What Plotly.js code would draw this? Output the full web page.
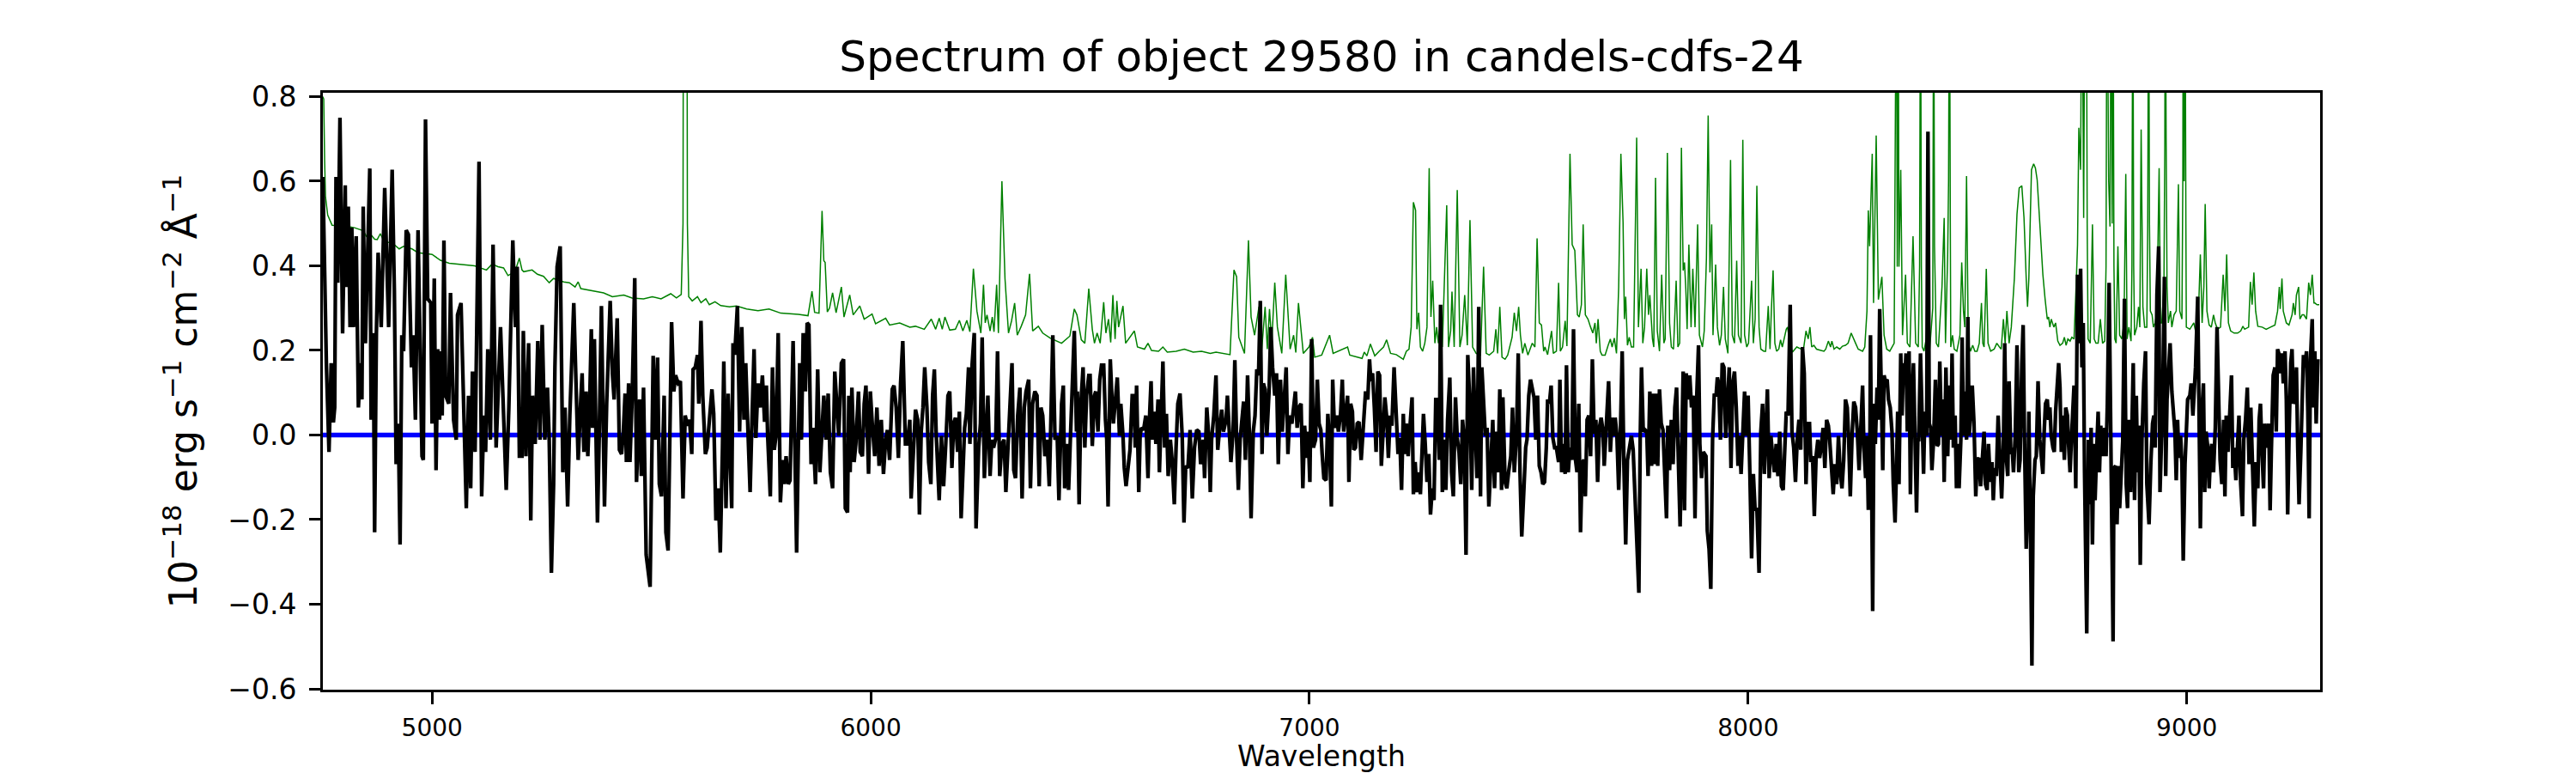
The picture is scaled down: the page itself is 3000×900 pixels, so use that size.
<!DOCTYPE html>
<html>
<head>
<meta charset="utf-8">
<script src="https://cdn.plot.ly/plotly-3.0.1.min.js"></script>
<style>
html,body{margin:0;padding:0;background:#ffffff;}
#chart{width:3000px;height:900px;}
</style>
</head>
<body>
<div id="chart"></div>
<script>
// ---------------- data (wavelength in Angstrom, flux in 1e-18 erg/s/cm2/A) ----------------
const xTickValues = [5000, 6000, 7000, 8000, 9000];
const yTickValues = [-0.6, -0.4, -0.2, 0.0, 0.2, 0.4, 0.6, 0.8];
const waveLimits = [4751, 9304];
const zeroLevel = [0, 0];

// observed flux, [wavelength, flux] pairs
const flux_4750_5325 = [[4751,0.61],[4759,0.17],[4765,-0.04],[4770,0.17],[4775,0.03],[4778,0.065],[4781,0.61],[4785,0.36],[4790,0.75],[4796,0.24],[4802,0.59],[4804,0.35],[4809,0.54],[4813,0.255],[4817,0.49],[4821,0.255],[4827,0.47],[4832,0.065],[4837,0.17],[4840,0.084],[4843,0.54],[4848,0.217],[4858,0.63],[4861,0.036],[4866,0.241],[4869,-0.23],[4873,0.241],[4877,0.431],[4884,0.255],[4892,0.584],[4901,0.255],[4909,0.627],[4914,0.341],[4918,-0.069],[4923,0.027],[4927,-0.259],[4931,0.236],[4935,0.198],[4941,0.484],[4946,0.474],[4953,0.16],[4957,0.236],[4962,0.036],[4968,0.484],[4977,-0.05],[4980,-0.059],[4985,0.746],[4990,0.322],[4997,0.312],[5000,0.027],[5005,0.37],[5009,-0.083],[5013,0.203],[5017,0.036],[5021,0.198],[5023,0.046],[5027,0.46],[5031,0.093],[5038,0.074],[5042,0.336],[5049,0.036],[5055,-0.011],[5058,0.284],[5066,0.312],[5078,-0.173],[5083,0.093],[5088,-0.126],[5092,0.15],[5098,-0.04],[5107,0.646],[5113,-0.145],[5118,0.046],[5122,-0.04],[5127,0.203],[5133,-0.011],[5139,0.45],[5146,-0.03],[5156,0.255],[5169,-0.13],[5175,0.065],[5184,0.46],[5190,0.255],[5194,0.398],[5199,-0.05],[5205,-0.05],[5208,0.246],[5214,-0.05],[5220,0.217],[5225,-0.202],[5229,0.093],[5235,-0.021],[5241,0.222],[5246,-0.011],[5251,0.26],[5257,-0.011],[5263,0.112],[5267,-0.011],[5272,-0.326],[5277,-0.116],[5280,0.16],[5285,0.398],[5292,0.446],[5298,-0.088],[5303,0.065],[5309,-0.169],[5314,0.046],[5323,0.312]];
const flux_5325_5910 = [[5333,-0.059],[5339,0.084],[5342,0.146],[5346,-0.04],[5351,0.103],[5355,-0.05],[5359,0.065],[5363,0.25],[5366,0.017],[5370,0.227],[5377,-0.207],[5381,-0.002],[5386,0.305],[5393,-0.169],[5398,0.074],[5406,0.317],[5411,0.146],[5415,0.084],[5422,0.276],[5427,-0.035],[5432,-0.045],[5436,0.008],[5440,0.098],[5443,-0.064],[5448,0.122],[5451,-0.064],[5456,0.084],[5462,0.371],[5466,-0.111],[5473,0.084],[5477,-0.097],[5482,0.112],[5488,-0.283],[5497,-0.359],[5501,0.065],[5504,0.187],[5509,-0.011],[5514,0.183],[5518,-0.116],[5523,-0.145],[5529,0.093],[5533,-0.23],[5538,-0.273],[5546,0.267],[5551,0.103],[5555,0.141],[5561,0.122],[5566,0.127],[5572,-0.15],[5577,0.046],[5582,0.022],[5587,0.036],[5592,-0.045],[5595,0.155],[5600,0.16],[5605,0.189],[5608,0.074],[5613,0.27],[5617,0.093],[5623,-0.045],[5627,-0.03],[5631,0.027],[5638,0.108],[5642,0.05],[5647,-0.202],[5652,-0.126],[5657,-0.278],[5662,-0.03],[5665,0.174],[5670,-0.173],[5675,0.098],[5683,-0.173],[5686,0.217],[5690,0.19],[5696,0.305],[5701,0.008],[5706,0.255],[5711,0.036],[5715,0.17],[5720,0.012],[5725,-0.135],[5729,0.027],[5734,0.203],[5738,-0.007],[5743,0.122],[5748,0.065],[5753,0.141],[5758,0.031],[5762,0.117],[5765,-0.002],[5771,-0.145],[5776,0.16],[5780,-0.035],[5784,-0.002],[5789,0.241],[5794,-0.159],[5799,-0.059],[5803,-0.116],[5807,-0.05],[5812,-0.116],[5816,-0.107],[5823,0.222],[5827,-0.011],[5831,-0.278],[5838,0.17],[5842,-0.011],[5846,0.241],[5851,0.103],[5855,0.265],[5859,0.26],[5864,-0.069],[5868,0.017],[5874,-0.116],[5879,0.155],[5884,-0.088],[5888,-0.011],[5893,0.093],[5898,-0.011],[5903,0.098],[5908,-0.088]];
const flux_5910_6500 = [[5913,-0.126],[5918,0.15],[5923,0.074],[5927,-0.002],[5933,0.17],[5938,0.179],[5942,-0.173],[5947,-0.183],[5950,0.093],[5953,-0.088],[5957,0.112],[5962,-0.064],[5966,-0.021],[5972,0.103],[5976,-0.04],[5981,-0.05],[5985,0.074],[5989,0.117],[5995,-0.092],[5999,0.103],[6004,0.017],[6009,-0.05],[6014,0.065],[6019,-0.073],[6024,0.036],[6029,-0.092],[6034,-0.011],[6038,0.012],[6043,-0.059],[6049,0.108],[6053,0.117],[6058,0.065],[6063,-0.054],[6068,0.122],[6073,0.222],[6079,-0.021],[6084,-0.021],[6089,0.036],[6092,-0.15],[6098,-0.002],[6102,0.06],[6107,0.036],[6111,-0.188],[6115,0.008],[6119,0.065],[6123,0.16],[6128,0.065],[6132,-0.064],[6137,-0.116],[6141,0.093],[6145,0.155],[6149,0.008],[6156,-0.154],[6161,-0.002],[6166,-0.121],[6171,-0.021],[6176,0.093],[6180,0.103],[6185,-0.078],[6189,0.027],[6193,0.041],[6198,-0.04],[6202,0.055],[6206,-0.197],[6210,-0.064],[6214,0.017],[6218,0.05],[6223,0.16],[6226,-0.021],[6231,0.165],[6236,0.241],[6240,-0.221],[6246,-0.03],[6250,0.027],[6254,0.231],[6259,-0.102],[6263,-0.002],[6267,0.093],[6272,-0.097],[6276,-0.011],[6280,-0.03],[6285,-0.007],[6289,0.198],[6294,-0.097],[6299,-0.021],[6304,-0.011],[6308,-0.135],[6312,-0.059],[6317,0.065],[6322,0.17],[6326,-0.083],[6330,-0.102],[6335,0.046],[6340,0.112],[6345,-0.15],[6350,0.065],[6354,0.103],[6360,0.131],[6364,-0.126],[6369,0.074],[6374,0.103],[6379,0.093],[6384,-0.121],[6388,0.065],[6392,0.046],[6397,-0.05],[6402,-0.011],[6407,-0.121],[6410,0.008],[6415,0.236],[6420,-0.011],[6425,-0.002],[6429,-0.154],[6435,0.074],[6439,0.117],[6442,-0.126],[6448,-0.021],[6451,-0.13],[6455,-0.011],[6459,0.103],[6464,0.246],[6469,0.008],[6471,0.103],[6475,-0.164],[6479,0.074],[6484,0.16],[6488,-0.03],[6492,0.093],[6497,0.141]];
const flux_6500_7090 = [[6500,0.141],[6505,-0.026],[6510,0.093],[6513,0.103],[6518,0.008],[6522,0.131],[6526,0.165],[6531,0.165],[6535,0.036],[6538,-0.011],[6541,-0.169],[6546,0.179],[6550,0.084],[6553,0.027],[6557,0.074],[6562,0.136],[6567,-0.002],[6570,0.074],[6575,-0.002],[6578,-0.078],[6582,-0.121],[6587,-0.069],[6591,-0.035],[6596,0.093],[6600,0.093],[6603,-0.03],[6606,0.117],[6611,-0.135],[6614,-0.002],[6617,0.017],[6622,0.012],[6627,0.046],[6632,-0.102],[6636,0.055],[6639,0.127],[6642,-0.011],[6646,0.055],[6650,-0.021],[6655,0.084],[6658,-0.088],[6662,0.046],[6666,0.174],[6670,-0.03],[6674,0.05],[6678,-0.097],[6683,-0.011],[6687,-0.059],[6692,-0.164],[6696,-0.03],[6700,0.074],[6705,0.098],[6710,-0.002],[6714,-0.207],[6718,-0.073],[6723,-0.078],[6728,0.012],[6733,-0.15],[6738,-0.03],[6743,0.012],[6748,0.008],[6752,-0.069],[6758,-0.011],[6761,-0.102],[6766,0.065],[6771,-0.011],[6774,-0.135],[6777,-0.011],[6782,0.046],[6787,0.141],[6791,-0.035],[6795,0.012],[6800,0.06],[6804,0.008],[6810,0.036],[6813,0.093],[6818,-0.016],[6821,-0.064],[6826,0.008],[6830,0.177],[6834,-0.011],[6838,-0.13],[6842,-0.011],[6846,0.036],[6850,0.079],[6854,-0.059],[6859,0.141],[6863,0.008],[6867,-0.197],[6872,0.008],[6876,0.046],[6880,0.155],[6884,0.141],[6888,0.317],[6892,-0.045],[6895,0.122],[6899,0.108],[6903,-0.002],[6908,0.103],[6912,0.255],[6916,0.16],[6921,0.093],[6925,0.146],[6929,-0.069],[6934,0.131],[6938,0.008],[6942,0.074],[6947,0.16],[6951,-0.045],[6955,0.046],[6960,0.027],[6964,0.065],[6968,0.103],[6972,0.017],[6976,0.065],[6981,0.074],[6985,-0.126],[6989,0.022],[6994,-0.054],[6997,0.008],[7001,-0.111],[7005,0.227],[7009,-0.03],[7014,-0.011],[7018,0.131],[7022,0.027],[7026,0.012],[7029,-0.045],[7033,-0.102],[7038,-0.107],[7042,0.05],[7046,-0.021],[7050,-0.169],[7053,0.131],[7057,0.017],[7062,0.046],[7066,0.008],[7071,0.05],[7075,0.131],[7078,0.008],[7082,0.046],[7087,0.093]];
const flux_7090_7675 = [[7090,-0.111],[7094,0.074],[7098,0.055],[7101,-0.035],[7105,-0.03],[7109,0.027],[7113,0.031],[7118,-0.059],[7121,-0.011],[7125,0.074],[7128,0.103],[7133,0.084],[7137,0.179],[7140,0.127],[7144,0.146],[7148,0.065],[7152,-0.04],[7156,0.15],[7160,0.141],[7164,-0.073],[7169,0.017],[7172,0.089],[7176,0.044],[7180,-0.054],[7184,0.046],[7188,0.022],[7193,0.16],[7198,0.017],[7202,-0.045],[7206,-0.007],[7210,-0.13],[7214,0.05],[7217,-0.045],[7221,0.027],[7225,-0.05],[7229,0.017],[7234,0.089],[7237,-0.14],[7241,-0.064],[7245,-0.135],[7249,-0.088],[7253,-0.14],[7257,0.012],[7260,0.05],[7264,-0.021],[7268,-0.111],[7272,-0.045],[7276,-0.188],[7280,-0.126],[7284,-0.154],[7288,0.084],[7292,0.084],[7296,-0.059],[7299,0.308],[7303,-0.135],[7307,-0.011],[7311,-0.13],[7315,0.036],[7320,0.136],[7324,-0.088],[7328,-0.145],[7333,0.089],[7337,-0.007],[7341,-0.04],[7345,-0.116],[7349,0.036],[7353,-0.011],[7357,-0.283],[7361,0.189],[7366,0.065],[7370,-0.13],[7374,0.16],[7378,0.017],[7382,-0.102],[7386,0.303],[7390,-0.145],[7393,0.16],[7397,0.07],[7401,-0.002],[7405,0.017],[7409,-0.169],[7413,-0.078],[7418,0.036],[7422,-0.126],[7426,0.008],[7430,-0.088],[7434,0.108],[7438,-0.13],[7441,0.089],[7446,-0.111],[7450,-0.126],[7454,-0.088],[7459,-0.05],[7463,0.065],[7467,-0.088],[7472,-0.002],[7476,0.193],[7480,-0.088],[7484,-0.24],[7489,-0.126],[7493,-0.03],[7496,-0.011],[7500,0.093],[7504,0.131],[7508,0.103],[7512,0.089],[7516,-0.011],[7520,0.093],[7524,-0.073],[7528,-0.088],[7532,-0.116],[7536,-0.111],[7540,-0.03],[7543,0.084],[7547,0.074],[7551,0.117],[7555,-0.007],[7559,-0.03],[7563,-0.03],[7568,-0.064],[7571,0.131],[7575,-0.088],[7579,-0.021],[7583,-0.092],[7586,0.165],[7590,-0.088],[7594,-0.03],[7598,-0.059],[7602,0.25],[7606,-0.054],[7610,-0.088],[7614,0.074],[7618,-0.23],[7622,-0.064],[7626,-0.059],[7629,-0.145],[7633,0.036],[7637,0.046],[7641,-0.05],[7645,0.179],[7649,0.003],[7653,0.036],[7657,-0.111],[7661,0.017],[7665,0.041],[7669,0.012],[7672,-0.073]];
const flux_7675_8262 = [[7678,0.055],[7682,0.127],[7686,-0.04],[7690,0.041],[7694,-0.002],[7697,0.041],[7701,-0.002],[7705,-0.13],[7709,0.008],[7713,0.198],[7717,-0.078],[7721,-0.259],[7725,-0.059],[7729,-0.026],[7734,-0.002],[7738,-0.035],[7742,-0.126],[7746,-0.24],[7751,-0.373],[7754,-0.011],[7757,0.16],[7761,0.008],[7765,0.012],[7769,0.008],[7772,-0.097],[7776,0.103],[7780,-0.073],[7782,0.098],[7786,-0.069],[7790,0.098],[7794,-0.073],[7798,0.108],[7802,0.027],[7806,0.012],[7810,-0.111],[7814,-0.197],[7817,0.022],[7821,-0.083],[7825,0.036],[7829,-0.069],[7833,0.065],[7837,0.112],[7841,-0.059],[7845,-0.216],[7849,-0.011],[7852,0.15],[7855,-0.178],[7859,0.146],[7863,0.084],[7867,0.141],[7871,0.065],[7875,0.093],[7879,-0.197],[7883,0.093],[7887,0.212],[7890,-0.021],[7894,-0.102],[7898,-0.04],[7904,-0.05],[7907,-0.226],[7911,-0.269],[7915,-0.364],[7919,-0.011],[7923,0.098],[7927,0.093],[7930,0.136],[7933,0.122],[7937,-0.011],[7941,0.17],[7945,0.16],[7949,-0.007],[7953,0.093],[7957,0.16],[7961,-0.078],[7965,0.122],[7969,0.15],[7973,0.065],[7977,-0.073],[7980,-0.002],[7984,-0.092],[7988,-0.011],[7992,0.103],[7996,-0.002],[8000,0.093],[8004,-0.088],[8008,-0.292],[8012,-0.092],[8016,-0.178],[8020,-0.173],[8025,-0.326],[8029,0.008],[8033,0.074],[8037,-0.092],[8040,-0.011],[8044,0.108],[8048,-0.102],[8052,-0.002],[8056,-0.05],[8060,-0.088],[8064,-0.021],[8068,-0.097],[8072,0.008],[8076,-0.121],[8080,-0.13],[8083,-0.05],[8087,0.055],[8091,0.046],[8096,0.308],[8100,0.008],[8104,-0.03],[8108,-0.111],[8112,-0.011],[8116,0.036],[8120,-0.035],[8124,0.208],[8128,0.146],[8132,-0.116],[8136,0.027],[8140,0.027],[8143,-0.064],[8147,-0.05],[8151,-0.192],[8155,-0.05],[8159,-0.011],[8163,-0.054],[8167,-0.026],[8171,0.017],[8175,-0.078],[8179,0.036],[8183,0.022],[8186,-0.011],[8190,-0.088],[8194,-0.14],[8198,-0.069],[8202,-0.116],[8206,-0.002],[8210,-0.088],[8214,-0.126],[8218,-0.059],[8222,0.084],[8226,0.065],[8229,-0.002],[8233,-0.145],[8237,-0.002],[8241,0.079],[8245,0.065],[8249,0.008],[8253,-0.083],[8257,0.017],[8261,0.117]];
const flux_8262_8750 = [[8264,-0.03],[8268,-0.102],[8271,-0.002],[8274,-0.173],[8277,-0.173],[8279,0.236],[8284,-0.416],[8287,0.074],[8290,-0.021],[8294,0.112],[8297,0.036],[8300,0.298],[8303,0.141],[8307,-0.083],[8310,0.141],[8313,0.127],[8317,0.131],[8320,0.084],[8324,0.065],[8328,0.008],[8331,-0.116],[8335,-0.207],[8338,-0.088],[8341,0.055],[8344,-0.116],[8348,0.193],[8351,0.046],[8354,0.17],[8357,0.122],[8360,0.193],[8363,0.008],[8367,0.198],[8370,-0.14],[8373,0.065],[8377,0.17],[8380,-0.021],[8384,-0.183],[8387,-0.011],[8389,-0.011],[8393,0.193],[8397,-0.002],[8400,-0.092],[8403,0.055],[8407,-0.002],[8410,0.717],[8413,0.027],[8416,0.017],[8419,-0.083],[8423,-0.011],[8427,0.131],[8431,-0.026],[8434,-0.021],[8437,0.174],[8441,-0.002],[8444,0.084],[8447,-0.111],[8451,0.16],[8455,-0.05],[8459,0.117],[8462,-0.011],[8465,0.193],[8468,-0.03],[8472,0.046],[8475,-0.126],[8478,-0.021],[8481,-0.126],[8485,-0.011],[8488,0.231],[8491,-0.002],[8494,0.103],[8498,-0.011],[8501,0.279],[8504,-0.002],[8507,0.065],[8511,0.117],[8515,0.027],[8519,-0.145],[8522,-0.059],[8526,-0.054],[8530,-0.121],[8534,-0.059],[8538,0.008],[8541,-0.116],[8545,-0.13],[8548,-0.021],[8552,-0.111],[8556,-0.064],[8559,-0.154],[8562,-0.078],[8566,-0.097],[8570,0.046],[8574,-0.059],[8578,-0.15],[8582,-0.03],[8585,0.217],[8589,-0.059],[8592,-0.097],[8595,0.127],[8599,-0.045],[8602,-0.03],[8605,-0.088],[8609,-0.002],[8613,0.212],[8617,-0.088],[8620,-0.059],[8624,0.17],[8627,0.26],[8630,-0.002],[8634,-0.269],[8638,-0.126],[8640,0.055],[8644,-0.259],[8647,-0.545],[8650,-0.145],[8654,-0.059],[8657,-0.05],[8661,0.127],[8665,-0.011],[8668,-0.05],[8672,-0.092],[8675,0.008],[8678,0.074],[8682,0.084],[8685,0.036],[8688,0.065],[8691,-0.002],[8695,-0.03],[8698,-0.04],[8701,0.055],[8704,0.112],[8708,0.17],[8711,0.112],[8714,-0.04],[8717,0.046],[8721,-0.059],[8724,0.065],[8728,0.046],[8730,-0.011],[8734,-0.088],[8737,-0.011],[8740,0.084],[8743,0.117],[8747,-0.126]];
const flux_8750_9300 = [[8751,0.379],[8754,0.217],[8758,0.393],[8761,0.16],[8764,0.265],[8767,-0.088],[8772,-0.469],[8776,-0.011],[8779,-0.164],[8782,0.017],[8785,-0.259],[8788,-0.021],[8791,-0.154],[8795,-0.026],[8798,0.055],[8801,-0.088],[8804,0.022],[8808,-0.05],[8813,0.017],[8816,-0.05],[8819,0.074],[8823,0.36],[8827,-0.03],[8832,-0.488],[8834,-0.078],[8838,-0.073],[8841,-0.211],[8844,-0.073],[8847,-0.173],[8851,-0.088],[8854,-0.016],[8858,0.322],[8862,-0.116],[8865,-0.173],[8868,0.036],[8872,-0.135],[8875,0.046],[8878,0.17],[8881,-0.154],[8885,0.093],[8888,-0.088],[8891,0.022],[8894,-0.307],[8898,-0.002],[8902,0.122],[8906,0.198],[8909,-0.116],[8914,-0.211],[8918,-0.069],[8922,0.027],[8925,0.046],[8928,-0.03],[8932,0.331],[8936,0.446],[8939,-0.135],[8942,-0.011],[8945,0.084],[8949,0.374],[8952,-0.097],[8955,0.084],[8958,0.141],[8962,0.217],[8966,0.103],[8970,0.027],[8973,0.008],[8976,-0.107],[8979,0.036],[8982,-0.054],[8986,-0.002],[8989,-0.069],[8992,-0.297],[8996,-0.069],[8999,0.003],[9002,0.084],[9007,0.093],[9010,0.122],[9014,0.046],[9017,0.112],[9020,0.16],[9025,0.327],[9028,-0.069],[9031,-0.221],[9035,0.065],[9038,0.122],[9041,-0.135],[9044,0.008],[9048,-0.03],[9051,-0.126],[9054,-0.05],[9057,-0.021],[9061,-0.088],[9065,0.017],[9069,0.255],[9072,0.084],[9076,-0.059],[9080,-0.116],[9084,0.036],[9087,-0.145],[9090,0.046],[9094,-0.04],[9098,0.046],[9102,0.141],[9105,-0.078],[9108,-0.03],[9112,-0.107],[9115,-0.03],[9119,0.046],[9123,-0.116],[9127,-0.192],[9130,-0.011],[9134,0.036],[9138,0.112],[9142,-0.069],[9146,0.065],[9150,-0.088],[9154,-0.216],[9158,-0.064],[9162,-0.126],[9165,0.036],[9168,0.074],[9172,-0.05],[9175,-0.126],[9178,0.027],[9183,-0.03],[9187,0.027],[9190,-0.178],[9193,-0.03],[9197,0.141],[9201,0.16],[9204,0.008],[9207,0.203],[9211,0.189],[9214,0.146],[9217,0.193],[9220,0.122],[9224,0.198],[9227,0.084],[9230,-0.188],[9233,-0.011],[9237,0.17],[9240,0.203],[9243,0.074],[9247,0.084],[9250,0.16],[9253,-0.03],[9256,-0.164],[9260,-0.04],[9263,0.103],[9266,0.189],[9269,0.16],[9273,0.198],[9276,0.055],[9279,-0.197],[9282,0.179],[9286,0.274],[9289,0.065],[9292,0.198],[9295,0.027],[9299,0.179]];

// noise spectrum, [wavelength, flux] pairs
const noise_4750_5325 = [[4751,0.80],[4753,0.794],[4755,0.65],[4757,0.563],[4762,0.52],[4772,0.496],[4804,0.494],[4823,0.49],[4843,0.483],[4850,0.47],[4855,0.465],[4862,0.472],[4869,0.463],[4875,0.462],[4882,0.476],[4890,0.458],[4902,0.455],[4915,0.449],[4925,0.44],[4935,0.446],[4954,0.44],[4968,0.431],[5000,0.427],[5019,0.413],[5039,0.406],[5065,0.404],[5097,0.4],[5124,0.39],[5137,0.404],[5150,0.398],[5163,0.395],[5173,0.377],[5189,0.386],[5199,0.418],[5205,0.39],[5209,0.386],[5228,0.39],[5240,0.38],[5254,0.375],[5267,0.36],[5277,0.37],[5300,0.362],[5313,0.36]];
const noise_5325_5910 = [[5326,0.35],[5333,0.362],[5339,0.346],[5365,0.341],[5391,0.336],[5411,0.327],[5437,0.331],[5456,0.324],[5482,0.322],[5502,0.327],[5522,0.322],[5544,0.334],[5557,0.324],[5568,0.332],[5572,0.5],[5573,1.2],[5578,1.4],[5581,1.2],[5582,0.5],[5585,0.327],[5593,0.317],[5605,0.327],[5613,0.313],[5624,0.322],[5632,0.308],[5645,0.315],[5658,0.306],[5678,0.303],[5694,0.305],[5717,0.298],[5743,0.294],[5768,0.298],[5795,0.288],[5835,0.285],[5857,0.282],[5866,0.34],[5872,0.29],[5882,0.288],[5889,0.53],[5893,0.412],[5896,0.408],[5901,0.291],[5906,0.3]];
const noise_5910_6500 = [[5913,0.336],[5921,0.289],[5933,0.35],[5939,0.279],[5952,0.331],[5960,0.284],[5975,0.305],[5985,0.274],[6003,0.286],[6011,0.263],[6034,0.276],[6043,0.26],[6066,0.265],[6089,0.255],[6102,0.257],[6122,0.25],[6138,0.274],[6148,0.25],[6156,0.276],[6163,0.25],[6169,0.279],[6180,0.248],[6193,0.25],[6202,0.271],[6210,0.246],[6219,0.271],[6226,0.244],[6234,0.393],[6242,0.293],[6251,0.241],[6257,0.355],[6261,0.265],[6265,0.284],[6272,0.246],[6277,0.279],[6281,0.244],[6287,0.355],[6291,0.241],[6299,0.6],[6306,0.37],[6314,0.241],[6321,0.27],[6328,0.312],[6334,0.236],[6343,0.257],[6353,0.284],[6362,0.381],[6369,0.246],[6382,0.257],[6392,0.241],[6409,0.229],[6435,0.217],[6454,0.234],[6464,0.298],[6470,0.284],[6480,0.225],[6488,0.217],[6497,0.346]];
const noise_6500_7090 = [[6505,0.25],[6510,0.217],[6516,0.241],[6523,0.217],[6531,0.314],[6536,0.241],[6542,0.274],[6547,0.219],[6552,0.331],[6557,0.227],[6561,0.317],[6565,0.255],[6575,0.305],[6581,0.217],[6601,0.246],[6608,0.208],[6624,0.203],[6632,0.217],[6640,0.2],[6656,0.198],[6666,0.208],[6676,0.196],[6696,0.198],[6715,0.203],[6735,0.196],[6754,0.198],[6774,0.193],[6787,0.196],[6819,0.19],[6828,0.39],[6834,0.374],[6839,0.231],[6852,0.193],[6861,0.46],[6867,0.279],[6875,0.236],[6885,0.303],[6891,0.198],[6899,0.303],[6904,0.203],[6909,0.298],[6914,0.217],[6921,0.36],[6927,0.255],[6937,0.193],[6946,0.379],[6956,0.203],[6964,0.236],[6969,0.195],[6975,0.312],[6986,0.193],[6999,0.208],[7007,0.231],[7012,0.184],[7028,0.189],[7046,0.236],[7054,0.193],[7074,0.203],[7087,0.208]];
const noise_7090_7675 = [[7092,0.189],[7107,0.184],[7120,0.181],[7125,0.196],[7131,0.187],[7139,0.215],[7149,0.187],[7159,0.198],[7169,0.208],[7176,0.225],[7185,0.193],[7198,0.19],[7214,0.179],[7221,0.198],[7227,0.203],[7232,0.255],[7237,0.55],[7242,0.531],[7245,0.25],[7249,0.289],[7253,0.208],[7258,0.198],[7263,0.217],[7268,0.255],[7273,0.631],[7277,0.279],[7281,0.365],[7286,0.217],[7290,0.255],[7294,0.217],[7299,0.274],[7303,0.208],[7313,0.543],[7317,0.208],[7322,0.246],[7325,0.339],[7330,0.208],[7337,0.579],[7343,0.208],[7348,0.236],[7354,0.331],[7360,0.212],[7366,0.508],[7372,0.208],[7380,0.193],[7390,0.189],[7397,0.398],[7403,0.193],[7410,0.189],[7420,0.198],[7425,0.25],[7429,0.193],[7434,0.303],[7439,0.184],[7446,0.179],[7452,0.189],[7462,0.231],[7467,0.289],[7472,0.246],[7477,0.303],[7481,0.236],[7486,0.193],[7491,0.217],[7498,0.189],[7508,0.217],[7514,0.208],[7519,0.465],[7524,0.265],[7529,0.26],[7534,0.198],[7537,0.208],[7543,0.19],[7552,0.246],[7556,0.193],[7563,0.198],[7568,0.36],[7572,0.198],[7577,0.208],[7583,0.27],[7587,0.21],[7594,0.665],[7599,0.45],[7605,0.436],[7611,0.284],[7615,0.279],[7620,0.308],[7624,0.498],[7629,0.284],[7635,0.274],[7641,0.255],[7646,0.241],[7651,0.265],[7654,0.217],[7658,0.274],[7663,0.198],[7667,0.189],[7674,0.189]];
const noise_7675_8262 = [[7681,0.212],[7686,0.227],[7690,0.208],[7695,0.229],[7700,0.193],[7705,0.35],[7710,0.665],[7715,0.503],[7718,0.274],[7721,0.327],[7725,0.212],[7729,0.231],[7734,0.208],[7739,0.208],[7746,0.703],[7750,0.255],[7756,0.393],[7760,0.217],[7764,0.255],[7769,0.393],[7773,0.284],[7776,0.331],[7782,0.227],[7785,0.208],[7789,0.608],[7793,0.246],[7798,0.198],[7803,0.379],[7808,0.217],[7811,0.227],[7816,0.667],[7821,0.265],[7825,0.208],[7830,0.203],[7836,0.365],[7840,0.208],[7844,0.217],[7848,0.679],[7852,0.389],[7855,0.408],[7858,0.346],[7861,0.25],[7865,0.45],[7870,0.255],[7874,0.393],[7879,0.255],[7885,0.498],[7889,0.236],[7896,0.208],[7900,0.246],[7905,0.417],[7909,0.755],[7913,0.384],[7917,0.498],[7920,0.236],[7926,0.403],[7930,0.255],[7935,0.212],[7939,0.236],[7944,0.35],[7948,0.227],[7954,0.193],[7960,0.65],[7964,0.236],[7969,0.217],[7974,0.412],[7978,0.236],[7984,0.217],[7988,0.698],[7992,0.236],[7997,0.208],[8001,0.217],[8008,0.365],[8012,0.217],[8016,0.274],[8020,0.589],[8025,0.255],[8029,0.203],[8036,0.198],[8040,0.198],[8046,0.305],[8050,0.203],[8053,0.293],[8057,0.389],[8061,0.217],[8065,0.198],[8070,0.203],[8074,0.225],[8078,0.208],[8082,0.227],[8087,0.25],[8090,0.255],[8095,0.217],[8101,0.196],[8111,0.208],[8121,0.203],[8127,0.208],[8132,0.246],[8137,0.227],[8141,0.255],[8145,0.208],[8150,0.212],[8156,0.203],[8166,0.2],[8173,0.198],[8177,0.203],[8183,0.222],[8188,0.208],[8191,0.222],[8196,0.203],[8202,0.208],[8209,0.203],[8215,0.21],[8222,0.212],[8228,0.217],[8235,0.241],[8240,0.227],[8245,0.217],[8251,0.203],[8261,0.198]];
const noise_8262_8750 = [[8266,0.208],[8271,0.293],[8274,0.531],[8277,0.446],[8283,0.665],[8286,0.312],[8292,0.708],[8297,0.32],[8305,0.374],[8310,0.236],[8316,0.203],[8323,0.198],[8333,0.217],[8336,0.5],[8338,1.2],[8340,0.398],[8342,1.2],[8344,0.398],[8348,0.627],[8352,0.236],[8359,0.379],[8363,0.217],[8369,0.208],[8376,0.47],[8382,0.217],[8388,0.208],[8391,0.4],[8393,1.2],[8395,0.4],[8397,0.208],[8401,0.198],[8406,0.227],[8411,0.322],[8414,0.203],[8421,0.3],[8423,1.2],[8425,0.446],[8429,0.217],[8434,0.208],[8442,0.35],[8447,0.513],[8450,0.217],[8455,0.427],[8457,0.6],[8459,1.2],[8461,0.5],[8462,0.208],[8466,0.236],[8470,0.203],[8476,0.198],[8483,0.236],[8487,0.408],[8491,0.293],[8494,0.255],[8498,0.612],[8502,0.217],[8507,0.198],[8512,0.212],[8517,0.198],[8522,0.198],[8527,0.217],[8532,0.312],[8535,0.217],[8538,0.208],[8543,0.393],[8547,0.217],[8553,0.198],[8561,0.203],[8567,0.217],[8573,0.208],[8577,0.203],[8582,0.274],[8586,0.217],[8590,0.293],[8595,0.217],[8600,0.255],[8607,0.37],[8613,0.522],[8618,0.584],[8624,0.589],[8629,0.513],[8634,0.37],[8637,0.303],[8640,0.37],[8646,0.627],[8651,0.641],[8655,0.631],[8659,0.603],[8664,0.513],[8669,0.436],[8672,0.379],[8677,0.322],[8682,0.274],[8685,0.279],[8688,0.255],[8691,0.274],[8697,0.255],[8701,0.265],[8706,0.222],[8711,0.212],[8717,0.217],[8721,0.231],[8725,0.212],[8729,0.227],[8734,0.222],[8738,0.231],[8743,0.227],[8748,0.36]];
const noise_8750_9300 = [[8751,0.45],[8754,0.726],[8758,0.627],[8761,1.2],[8765,0.513],[8768,1.2],[8771,1.2],[8773,0.5],[8775,0.227],[8780,0.217],[8785,0.498],[8789,0.227],[8793,0.217],[8798,0.217],[8803,0.274],[8808,0.217],[8813,0.222],[8816,0.4],[8818,1.2],[8822,0.6],[8825,0.493],[8828,1.2],[8830,0.5],[8832,1.2],[8834,0.4],[8836,0.227],[8839,0.217],[8843,0.446],[8847,0.236],[8852,0.227],[8857,0.265],[8861,0.617],[8864,0.227],[8868,0.255],[8873,0.222],[8875,0.4],[8877,1.2],[8879,0.4],[8881,0.236],[8886,0.255],[8890,0.303],[8893,0.255],[8896,0.722],[8900,0.303],[8904,0.255],[8909,0.255],[8911,0.5],[8913,1.2],[8915,0.5],[8917,0.293],[8921,0.284],[8924,0.255],[8928,0.265],[8932,0.293],[8937,0.631],[8940,0.265],[8943,0.265],[8948,0.35],[8950,0.7],[8951,1.2],[8953,0.7],[8955,0.35],[8958,0.265],[8963,0.293],[8966,0.255],[8971,0.284],[8976,0.293],[8981,0.593],[8984,0.293],[8989,0.274],[8991,0.6],[8992,1.2],[8994,0.6],[8996,1.2],[8998,0.5],[8999,0.255],[9007,0.25],[9012,0.26],[9016,0.265],[9020,0.246],[9025,0.265],[9028,0.331],[9031,0.427],[9035,0.265],[9039,0.35],[9042,0.546],[9046,0.293],[9051,0.26],[9056,0.255],[9061,0.284],[9065,0.265],[9070,0.25],[9077,0.255],[9083,0.379],[9087,0.293],[9091,0.427],[9095,0.265],[9100,0.246],[9108,0.241],[9116,0.241],[9123,0.246],[9128,0.257],[9132,0.25],[9141,0.255],[9145,0.362],[9149,0.308],[9153,0.384],[9157,0.293],[9162,0.257],[9172,0.255],[9181,0.25],[9191,0.255],[9201,0.26],[9207,0.293],[9211,0.35],[9213,0.298],[9217,0.37],[9220,0.293],[9227,0.265],[9233,0.26],[9240,0.284],[9243,0.312],[9247,0.284],[9250,0.331],[9255,0.35],[9258,0.274],[9263,0.284],[9267,0.284],[9273,0.274],[9278,0.36],[9282,0.331],[9286,0.379],[9290,0.312],[9292,0.312],[9297,0.308],[9302,0.308]];

// ---------------- assembly ----------------
function joinSegments(segments) {
  const x = [], y = [];
  segments.forEach(seg => seg.forEach(p => { x.push(p[0]); y.push(p[1]); }));
  return {x, y};
}
const fluxSpec = joinSegments([flux_4750_5325, flux_5325_5910, flux_5910_6500, flux_6500_7090,
                               flux_7090_7675, flux_7675_8262, flux_8262_8750, flux_8750_9300]);
const noiseSpec = joinSegments([noise_4750_5325, noise_5325_5910, noise_5910_6500, noise_6500_7090,
                                noise_7090_7675, noise_7675_8262, noise_8262_8750, noise_8750_9300]);

const FONT = 'DejaVu Sans, Liberation Sans, sans-serif';

const traces = [
  {x: noiseSpec.x, y: noiseSpec.y, type: 'scatter', mode: 'lines',
   line: {color: '#008000', width: 1.5}, hoverinfo: 'skip'},
  {x: waveLimits, y: zeroLevel, type: 'scatter', mode: 'lines',
   line: {color: '#0000ff', width: 5.5}, hoverinfo: 'skip'},
  {x: fluxSpec.x, y: fluxSpec.y, type: 'scatter', mode: 'lines',
   line: {color: '#000000', width: 4.3}, hoverinfo: 'skip'}
];

const layout = {
  width: 3000, height: 900,
  margin: {l: 376, r: 298, t: 108, b: 97, pad: 0},
  paper_bgcolor: '#ffffff', plot_bgcolor: '#ffffff',
  showlegend: false,
  font: {family: FONT, color: '#000000'},
  title: {
    text: 'Spectrum of object 29580 in candels-cdfs-24',
    font: {family: FONT, size: 50, color: '#000000'},
    xref: 'paper', x: 0.5, xanchor: 'center',
    yref: 'container', y: 0.927, yanchor: 'middle'
  },
  xaxis: {
    range: waveLimits, autorange: false,
    tickmode: 'array', tickvals: xTickValues, ticktext: xTickValues.map(String),
    ticks: 'outside', ticklen: 14, tickwidth: 3, tickcolor: '#000000',
    ticklabelstandoff: 3,
    tickfont: {family: FONT, size: 28, color: '#000000'},
    showline: true, linecolor: '#000000', linewidth: 3, mirror: true,
    showgrid: false, zeroline: false, automargin: false,
    title: {text: 'Wavelength', font: {family: FONT, size: 33, color: '#000000'}, standoff: 4}
  },
  yaxis: {
    range: [-0.602, 0.809], autorange: false,
    tickmode: 'array', tickvals: yTickValues,
    ticktext: yTickValues.map(v => (v < 0 ? '\u2212' : '') + Math.abs(v).toFixed(1)),
    ticks: 'outside', ticklen: 13, tickwidth: 3, tickcolor: '#000000',
    ticklabelstandoff: 8,
    tickfont: {family: FONT, size: 33, color: '#000000'},
    showline: true, linecolor: '#000000', linewidth: 3, mirror: true,
    showgrid: false, zeroline: false, automargin: false,
    title: {text: '10<sup>\u221218</sup> erg s<sup>\u22121</sup> cm<sup>\u22122</sup> \u00c5<sup>\u22121</sup>',
            font: {family: FONT, size: 44, color: '#000000'}, standoff: 22}
  }
};

Plotly.newPlot('chart', traces, layout, {displayModeBar: false, staticPlot: true});
</script>
</body>
</html>
